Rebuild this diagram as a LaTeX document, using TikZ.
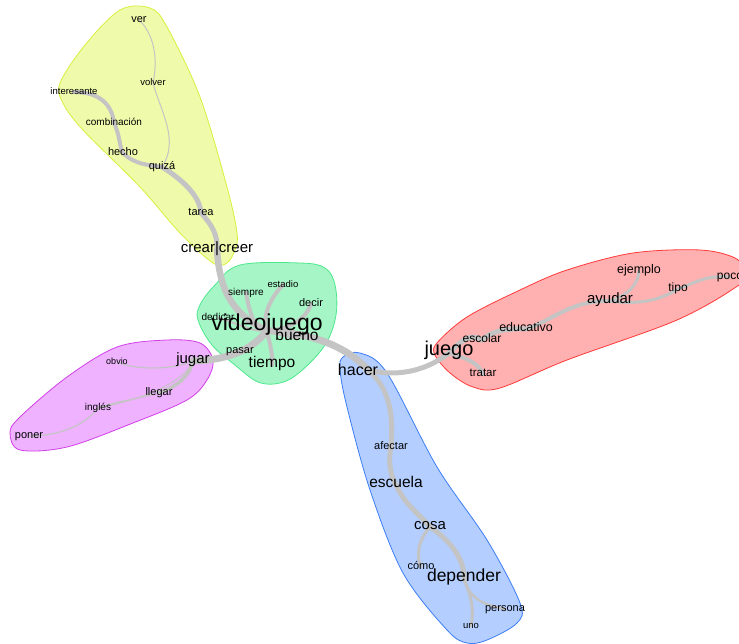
\documentclass[tikz,border=0pt]{standalone}
\usepackage{fontspec}
\setmainfont{Liberation Sans}
\newcommand\myfs[1]{\fontsize{#1}{#1}\selectfont}
\definecolor{edgegray}{HTML}{C4C4C4}
\definecolor{yfill}{HTML}{EFFBAA}
\definecolor{ydraw}{HTML}{D7F03C}
\definecolor{gfill}{HTML}{A6F5C6}
\definecolor{gdraw}{HTML}{4CE88C}
\definecolor{rfill}{HTML}{FFB0B0}
\definecolor{rdraw}{HTML}{FF3A3A}
\definecolor{pfill}{HTML}{EFB2FF}
\definecolor{pdraw}{HTML}{D13FE9}
\definecolor{bfill}{HTML}{B3CEFF}
\definecolor{bdraw}{HTML}{3C7DF5}
\pgfdeclarelayer{halo}
\pgfdeclarelayer{edges}
\pgfsetlayers{halo,edges,main}
\begin{document}
\begin{tikzpicture}[x=1pt,y=-1pt,
  lbl/.style={inner sep=0pt, text height=0.52em, text depth=0pt, text=black, font=\myfs{#1}},
  ed/.style={draw=edgegray, line cap=round, line width=#1},
  halo/.style 2 args={fill=#1, draw=#2, line width=0.8pt}]
\useasboundingbox (0,0) rectangle (739,644);

% labels
\node[lbl=11] (ver) at (139,20) {ver};
\node[lbl=9.5] (volver) at (153,83) {volver};
\node[lbl=9.5] (interesante) at (74,92) {interesante};
\node[lbl=10] (combinacion) at (114,123) {combinación};
\node[lbl=11] (hecho) at (123,153) {hecho};
\node[lbl=11] (quiza) at (162,167) {quizá};
\node[lbl=11] (tarea) at (201,213) {tarea};
\node[lbl=15] (crear) at (217,250) {crear|creer};
\node[lbl=9.5] (estadio) at (283,285) {estadio};
\node[lbl=10] (siempre) at (246,293) {siempre};
\node[lbl=11] (decir) at (311,304) {decir};
\node[lbl=10] (dedicar) at (218,318) {dedicar};
\node[lbl=23] (videojuego) at (267,328) {videojuego};
\node[lbl=15.5] (bueno) at (297,338) {bueno};
\node[lbl=11] (pasar) at (240,351) {pasar};
\node[lbl=15.5] (tiempo) at (272,365) {tiempo};
\node[lbl=15] (jugar) at (193,361) {jugar};
\node[lbl=9] (obvio) at (117,362) {obvio};
\node[lbl=11] (llegar) at (159,393) {llegar};
\node[lbl=10] (ingles) at (98,408) {inglés};
\node[lbl=11] (poner) at (29,436) {poner};
\node[lbl=16] (hacer) at (358,373) {hacer};
\node[lbl=20] (juego) at (449,353) {juego};
\node[lbl=12] (escolar) at (482,340) {escolar};
\node[lbl=12.5] (educativo) at (526,329) {educativo};
\node[lbl=11.5] (tratar) at (483,374) {tratar};
\node[lbl=15] (ayudar) at (610,301) {ayudar};
\node[lbl=12.5] (ejemplo) at (639,271) {ejemplo};
\node[lbl=12] (tipo) at (678,289) {tipo};
\node[lbl=12] (poco) at (730,277) {poco};
\node[lbl=11] (afectar) at (391,447) {afectar};
\node[lbl=15.5] (escuela) at (396,485) {escuela};
\node[lbl=15] (cosa) at (430,527) {cosa};
\node[lbl=11] (como) at (421,567) {cómo};
\node[lbl=17.5] (depender) at (464,579) {depender};
\node[lbl=11] (persona) at (505,609) {persona};
\node[lbl=9.5] (uno) at (471,626) {uno};

% halos
\begin{pgfonlayer}{halo}
\path[halo={gfill}{gdraw}] plot[smooth cycle, tension=0.6] coordinates {
  (240,265) (300,263) (325,268) (335,285) (336,315) (325,345) (300,372)
  (280,383) (258,382) (235,365) (212,345) (198,320) (200,305) (215,285)};
\path[halo={yfill}{ydraw}] plot[smooth cycle, tension=0.55] coordinates {
  (120,10) (150,8) (167,27) (200,97) (227,187) (237,233) (235,250) (227,263)
  (213,263) (180,233) (140,187) (83,130) (63,103) (60,83) (85,45)};
\path[halo={rfill}{rdraw}] plot[smooth cycle, tension=0.55] coordinates {
  (437,343) (467,317) (520,290) (567,270) (633,253) (700,250) (735,258)
  (745,272) (739,285) (677,320) (567,360) (500,388) (473,387) (450,373) (435,355)};
\path[halo={pfill}{pdraw}] plot[smooth cycle, tension=0.55] coordinates {
  (10,433) (20,417) (67,377) (117,347) (167,340) (200,343) (213,360)
  (207,380) (187,400) (133,423) (67,447) (20,450)};
\path[halo={bfill}{bdraw}] plot[smooth cycle, tension=0.55] coordinates {
  (343,357) (360,353) (387,373) (437,467) (487,540) (520,603) (517,623)
  (487,640) (467,643) (447,630) (403,573) (370,490) (347,407) (340,370)};
\end{pgfonlayer}

% edges
\begin{pgfonlayer}{edges}
% yellow group
\draw[ed=1pt] (ver.center) .. controls (152,32) and (159,55) .. (volver.center);
\draw[ed=1pt] (volver.center) .. controls (160,110) and (180,140) .. (quiza.center);
\draw[ed=4pt] (interesante.center) .. controls (100,92) and (112,105) .. (combinacion.center);
\draw[ed=4pt] (combinacion.center) .. controls (120,135) and (120,150) .. (hecho.center);
\draw[ed=4pt] (hecho.center) .. controls (135,165) and (150,165) .. (quiza.center);
\draw[ed=5pt] (quiza.center) .. controls (180,178) and (200,195) .. (tarea.center);
\draw[ed=5pt] (tarea.center) .. controls (212,225) and (218,235) .. (crear.center);
\draw[ed=6.5pt] (crear.center) .. controls (220,295) and (235,315) .. (videojuego.south);
% central
\draw[ed=4pt] (siempre.center) .. controls (250,315) and (255,330) .. (videojuego.south);
\draw[ed=4pt] (estadio.center) .. controls (268,300) and (262,320) .. (videojuego.south);
\draw[ed=4pt] (decir.center) .. controls (305,322) and (285,330) .. (videojuego.south);
\draw[ed=2pt] (dedicar.center) .. controls (235,322) and (250,332) .. (videojuego.south);
\draw[ed=2pt] (pasar.center) .. controls (250,348) and (260,342) .. (videojuego.south);
\draw[ed=4pt] (tiempo.center) .. controls (273,355) and (270,345) .. (videojuego.south);
\draw[ed=4pt] (bueno.center) -- (videojuego.south);
\draw[ed=7pt] (jugar.center) .. controls (225,360) and (250,352) .. (videojuego.south);
\draw[ed=7pt] (videojuego.south) .. controls (310,333) and (345,345) .. ([xshift=10pt,yshift=3pt]hacer.center);
% purple
\draw[ed=1.2pt] (jugar.center) .. controls (180,368) and (140,372) .. (obvio.center);
\draw[ed=3.5pt] (jugar.center) .. controls (190,375) and (180,385) .. (llegar.center);
\draw[ed=1pt] (jugar.center) .. controls (185,380) and (150,398) .. (ingles.center);
\draw[ed=1.2pt] (llegar.center) .. controls (140,398) and (115,402) .. (ingles.center);
\draw[ed=1.2pt] (ingles.center) .. controls (85,425) and (60,436) .. (poner.center);
% red
\draw[ed=5pt] ([xshift=10pt,yshift=3pt]hacer.center) .. controls (395,377) and (425,372) .. (juego.center);
\draw[ed=5pt] (juego.center) .. controls (462,340) and (470,333) .. (escolar.center);
\draw[ed=5pt] (escolar.center) .. controls (490,332) and (505,328) .. (educativo.center);
\draw[ed=4pt] (educativo.center) .. controls (550,322) and (570,300) .. (ayudar.center);
\draw[ed=4pt] (juego.center) .. controls (465,358) and (478,362) .. (tratar.center);
\draw[ed=3pt] (ayudar.center) .. controls (628,295) and (638,285) .. (ejemplo.center);
\draw[ed=3pt] (ayudar.center) .. controls (640,305) and (660,300) .. (tipo.center);
\draw[ed=3pt] (tipo.center) .. controls (695,283) and (705,275) .. (poco.center);
% blue
\draw[ed=5pt] ([xshift=10pt,yshift=3pt]hacer.center) .. controls (392,390) and (393,420) .. (afectar.center);
\draw[ed=5pt] (afectar.center) .. controls (388,460) and (390,475) .. (escuela.center);
\draw[ed=5pt] (escuela.center) .. controls (405,505) and (420,515) .. (cosa.center);
\draw[ed=5pt] (cosa.center) .. controls (450,540) and (465,560) .. (depender.center);
\draw[ed=3pt] (cosa.center) .. controls (418,540) and (416,555) .. (como.center);
\draw[ed=2.5pt] (depender.center) .. controls (470,600) and (485,605) .. (persona.center);
\draw[ed=3pt] (depender.center) .. controls (472,598) and (474,610) .. (uno.center);
\end{pgfonlayer}
\end{tikzpicture}
\end{document}
